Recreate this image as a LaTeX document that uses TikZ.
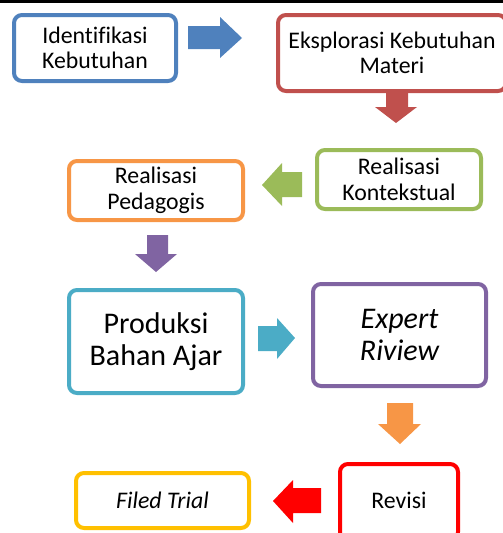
\documentclass[tikz,border=0pt]{standalone}
\usepackage{fontspec}
\setmainfont[Ligatures=NoCommon]{Carlito}
\definecolor{cblue}{HTML}{4F81BD}
\definecolor{cred}{HTML}{C0504D}
\definecolor{cgreen}{HTML}{9BBB59}
\definecolor{corange}{HTML}{F79646}
\definecolor{cpurple}{HTML}{8064A2}
\definecolor{cteal}{HTML}{4BACC6}
\definecolor{cbright}{HTML}{FF0000}
\definecolor{cyellow}{HTML}{FFC000}
\begin{document}
\begin{tikzpicture}[x=1pt,y=-1pt,
  stepbox/.style={draw, line width=4pt, rounded corners=8pt, fill=white, align=center, inner sep=0pt},
  small/.style={font=\fontsize{23.8}{25.5}\selectfont},
  big/.style={font=\fontsize{30}{32}\selectfont}]
\useasboundingbox (0,0) rectangle (503,533);
\clip (0,0) rectangle (503,533);
\fill[black] (0,0) rectangle (503,3);
% boxes
\node[stepbox, small, draw=cblue, minimum width=162pt, minimum height=66pt] (ident) at (95,48) {Identifikasi\\Kebutuhan};
\node[stepbox, small, draw=cred, minimum width=228pt, minimum height=76pt] (ekspl) at (392,53) {Eksplorasi Kebutuhan\\Materi};
\node[stepbox, small, draw=cgreen, minimum width=164pt, minimum height=59pt] (kontek) at (399,179.5) {Realisasi\\Kontekstual};
\node[stepbox, small, draw=corange, minimum width=174pt, minimum height=59pt] (pedag) at (156,190.5) {Realisasi\\Pedagogis};
\node[stepbox, big, draw=cteal, minimum width=174pt, minimum height=103pt] (produk) at (156,341.5) {Produksi\\Bahan Ajar};
\node[stepbox, big, draw=cpurple, minimum width=173pt, minimum height=102pt] (expert) at (399.5,335) {\itshape Expert\\\itshape Riview};
\node[stepbox, small, draw=cbright, minimum width=118pt, minimum height=76pt] (revisi) at (399,502) {};
\node[small, inner sep=0pt] (revisitext) at (399,500) {Revisi};
\node[stepbox, small, draw=cyellow, minimum width=173pt, minimum height=55pt] (filed) at (162.5,500.5) {\itshape Filed Trial};
% block arrows
\fill[cblue] (188,26) -- (220,26) -- (220,17) -- (242,38) -- (220,58) -- (220,49) -- (188,49) -- cycle;
\fill[cred] (386,93) -- (408,93) -- (408,107) -- (417,107) -- (396,123) -- (375,107) -- (386,107) -- cycle;
\fill[cgreen] (302,172) -- (282,172) -- (282,163) -- (262,185) -- (282,206) -- (282,197) -- (302,197) -- cycle;
\fill[cpurple] (147,235) -- (168,235) -- (168,254) -- (177,254) -- (156,272) -- (135,254) -- (147,254) -- cycle;
\fill[cteal] (258,326) -- (277,326) -- (277,318) -- (295,338) -- (277,359) -- (277,351) -- (258,351) -- cycle;
\fill[corange] (387,403) -- (413,403) -- (413,424) -- (421,424) -- (400,444) -- (378,424) -- (387,424) -- cycle;
\fill[cbright] (321,488) -- (293,488) -- (293,480) -- (273,501) -- (293,523) -- (293,513) -- (321,513) -- cycle;
\end{tikzpicture}
\end{document}
